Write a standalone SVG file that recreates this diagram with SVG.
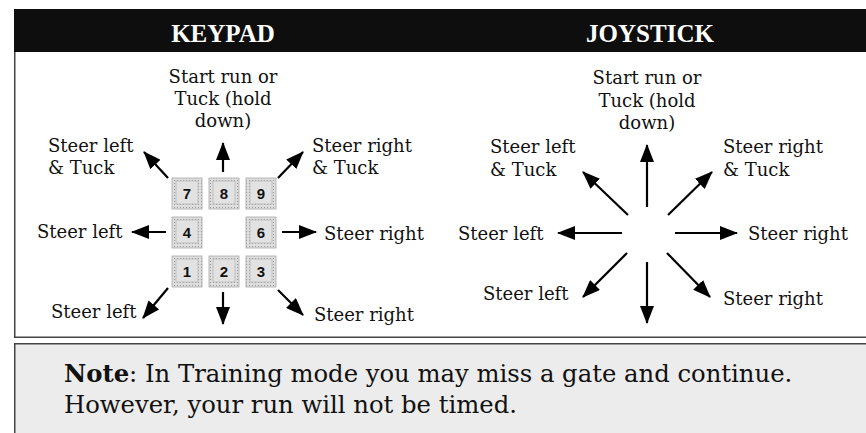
<svg xmlns="http://www.w3.org/2000/svg" width="866" height="433" viewBox="0 0 866 433">
<style>
.hdr{font-family:"Liberation Serif","Times New Roman",serif;font-weight:bold;font-size:25px;fill:#fff;text-anchor:middle}
.lbl{font-family:"DejaVu Serif","Liberation Serif",serif;font-size:18px;fill:#111}
.mid{text-anchor:middle}
.note{font-family:"DejaVu Serif","Liberation Serif",serif;font-size:24.3px;fill:#111}
.key-o{fill:url(#dots);stroke:#a8a8a8;stroke-width:0.8}
.key-i{fill:#e2e2e2;stroke:#b8b8b8;stroke-width:0.8}
.key-t{font-family:"Liberation Sans",Arial,sans-serif;font-weight:bold;font-size:15px;fill:#111;text-anchor:middle}
.arr{stroke:#000;stroke-width:2.2;fill:none;marker-end:url(#ah)}
.frame{stroke:#444;stroke-width:1.5;fill:none}
</style>
<defs>
<pattern id="dots" width="3" height="3" patternUnits="userSpaceOnUse">
<rect width="3" height="3" fill="#dedede"/>
<rect width="1" height="1" fill="#9a9a9a"/>
</pattern>
<marker id="ah" viewBox="0 -7 18 14" refX="17" refY="0" markerWidth="18" markerHeight="14" markerUnits="userSpaceOnUse" orient="auto">
<path d="M0,-7 L18,0 L0,7 z" fill="#000"/>
</marker>
</defs>
<rect width="866" height="433" fill="#fff"/>
<g id="frame">
<rect x="14" y="9" width="852" height="43" fill="#0e0e0e"/>
<path class="frame" d="M14.75,52 V337.25 H866"/>
<rect x="14" y="343" width="852" height="90" fill="#ececec"/>
<path class="frame" d="M14.75,433 V343.75 H866"/>
</g>
<g id="header-keypad"><text class="hdr" x="223" y="42">KEYPAD</text></g>
<g id="header-joystick"><text class="hdr" x="650" y="42">JOYSTICK</text></g>
<g id="keypad-keys">
<g id="key7"><rect class="key-o" x="172" y="178" width="30" height="31"/><rect class="key-i" x="176" y="181" width="22" height="23"/><text class="key-t" x="187" y="199">7</text></g>
<g id="key8"><rect class="key-o" x="209" y="178" width="30" height="31"/><rect class="key-i" x="213" y="181" width="22" height="23"/><text class="key-t" x="224" y="199">8</text></g>
<g id="key9"><rect class="key-o" x="246" y="178" width="30" height="31"/><rect class="key-i" x="250" y="181" width="22" height="23"/><text class="key-t" x="261" y="199">9</text></g>
<g id="key4"><rect class="key-o" x="172" y="217" width="30" height="31"/><rect class="key-i" x="176" y="220" width="22" height="23"/><text class="key-t" x="187" y="238">4</text></g>
<g id="key6"><rect class="key-o" x="246" y="217" width="30" height="31"/><rect class="key-i" x="250" y="220" width="22" height="23"/><text class="key-t" x="261" y="238">6</text></g>
<g id="key1"><rect class="key-o" x="172" y="256" width="30" height="31"/><rect class="key-i" x="176" y="259" width="22" height="23"/><text class="key-t" x="187" y="277">1</text></g>
<g id="key2"><rect class="key-o" x="209" y="256" width="30" height="31"/><rect class="key-i" x="213" y="259" width="22" height="23"/><text class="key-t" x="224" y="277">2</text></g>
<g id="key3"><rect class="key-o" x="246" y="256" width="30" height="31"/><rect class="key-i" x="250" y="259" width="22" height="23"/><text class="key-t" x="261" y="277">3</text></g>
</g>
<g id="kp-up"><text class="lbl mid" x="223" y="83">Start run or</text><text class="lbl mid" x="223" y="105">Tuck (hold</text><text class="lbl mid" x="223" y="127">down)</text></g>
<g id="kp-ul"><text class="lbl" x="48" y="152">Steer left</text><text class="lbl" x="48" y="174">&amp; Tuck</text></g>
<g id="kp-ur"><text class="lbl" x="312" y="152">Steer right</text><text class="lbl" x="312" y="174">&amp; Tuck</text></g>
<g id="kp-l"><text class="lbl" x="37" y="238">Steer left</text></g>
<g id="kp-r"><text class="lbl" x="324" y="240">Steer right</text></g>
<g id="kp-dl"><text class="lbl" x="51" y="318">Steer left</text></g>
<g id="kp-dr"><text class="lbl" x="314" y="321">Steer right</text></g>
<g id="js-up"><text class="lbl mid" x="647" y="84">Start run or</text><text class="lbl mid" x="647" y="107">Tuck (hold</text><text class="lbl mid" x="647" y="129">down)</text></g>
<g id="js-ul"><text class="lbl" x="490" y="153">Steer left</text><text class="lbl" x="490" y="176">&amp; Tuck</text></g>
<g id="js-ur"><text class="lbl" x="723" y="153">Steer right</text><text class="lbl" x="723" y="176">&amp; Tuck</text></g>
<g id="js-l"><text class="lbl" x="458" y="240">Steer left</text></g>
<g id="js-r"><text class="lbl" x="748" y="240">Steer right</text></g>
<g id="js-dl"><text class="lbl" x="483" y="300">Steer left</text></g>
<g id="js-dr"><text class="lbl" x="723" y="305">Steer right</text></g>
<g id="connectors">
<line class="arr" x1="223" y1="172" x2="223" y2="143"/>
<line class="arr" x1="168" y1="178" x2="144" y2="152"/>
<line class="arr" x1="278" y1="178" x2="303" y2="152"/>
<line class="arr" x1="166" y1="232" x2="132" y2="232"/>
<line class="arr" x1="282" y1="232" x2="316" y2="232"/>
<line class="arr" x1="168" y1="288" x2="143" y2="318"/>
<line class="arr" x1="223" y1="292" x2="223" y2="324"/>
<line class="arr" x1="278" y1="290" x2="303" y2="315"/>
<line class="arr" x1="647" y1="207" x2="647" y2="145"/>
<line class="arr" x1="647" y1="262" x2="647" y2="323"/>
<line class="arr" x1="622" y1="233" x2="558" y2="233"/>
<line class="arr" x1="675" y1="233" x2="737" y2="233"/>
<line class="arr" x1="628" y1="215" x2="583" y2="172"/>
<line class="arr" x1="668" y1="215" x2="712" y2="172"/>
<line class="arr" x1="627" y1="253" x2="583" y2="297"/>
<line class="arr" x1="667" y1="253" x2="710" y2="297"/>
</g>
<g id="note">
<text class="note" x="64" y="382"><tspan font-weight="bold">Note</tspan>: In Training mode you may miss a gate and continue.</text>
<text class="note" x="64" y="413">However, your run will not be timed.</text>
</g>
</svg>
